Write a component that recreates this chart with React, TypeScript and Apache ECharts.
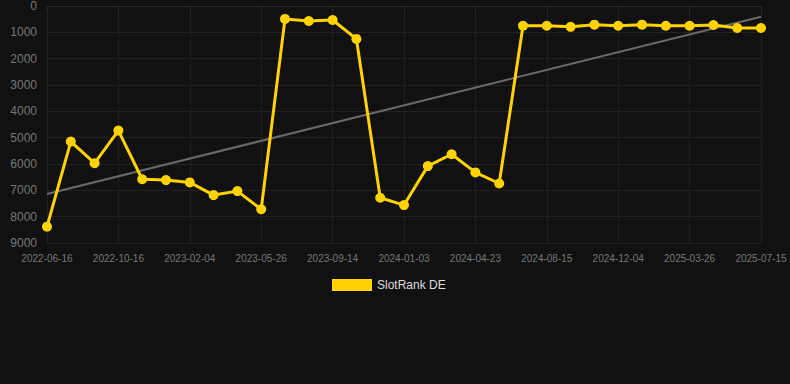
import React, { useEffect, useRef } from "react";
import * as echarts from "echarts";

const dates = [
  "2022-06-16", "2022-07-27", "2022-09-05", "2022-10-16", "2022-11-22", "2022-12-29",
  "2023-02-04", "2023-03-13", "2023-04-19", "2023-05-26", "2023-07-02", "2023-08-08",
  "2023-09-14", "2023-10-21", "2023-11-27", "2024-01-03", "2024-02-09", "2024-03-17",
  "2024-04-23", "2024-05-31", "2024-07-08", "2024-08-15", "2024-09-21", "2024-10-28",
  "2024-12-04", "2025-01-11", "2025-02-17", "2025-03-26", "2025-05-02", "2025-06-08",
  "2025-07-15",
];

const rankValues = [
  8380, 5150, 5970, 4730, 6580, 6610, 6700, 7180, 7030, 7720,
  490, 570, 530, 1250, 7280, 7560, 6080, 5630, 6320, 6740,
  750, 750, 790, 710, 750, 710, 750, 750, 720, 835, 835,
];

const trendStart = 7140;
const trendEnd = 405;

const yTicks = { min: 0, max: 9000, interval: 1000 };

export default function App() {
  const ref = useRef<HTMLDivElement>(null);
  useEffect(() => {
    document.body.style.margin = "0";
    document.body.style.background = "#111111";
    if (!ref.current) return;
    const chart = echarts.init(ref.current, null, { renderer: "svg" });
    const trend = dates.map((_, i) =>
      i === 0 ? trendStart : i === dates.length - 1 ? trendEnd : null
    );
    chart.setOption({
      animation: false,
      backgroundColor: "#111111",
      grid: { left: 47, right: 29, top: 6, bottom: 141 },
      legend: {
        top: 274,
        left: 327,
        itemWidth: 40,
        itemHeight: 12,
        itemGap: 10,
        data: [{ name: "SlotRank DE", icon: "rect" }],
        textStyle: { color: "#dddddd", fontSize: 12, fontFamily: "Arial, Liberation Sans, sans-serif" },
      },
      xAxis: {
        type: "category",
        boundaryGap: false,
        data: dates,
        axisLine: { show: true, lineStyle: { color: "#2a2a2a" } },
        axisTick: { show: true, interval: 2, lineStyle: { color: "#2a2a2a" } },
        axisLabel: {
          interval: 2,
          color: "#777777",
          fontSize: 10,
          margin: 10,
          fontFamily: "Arial, Liberation Sans, sans-serif",
        },
        splitLine: { show: true, interval: 2, lineStyle: { color: "#1f1f1f" } },
      },
      yAxis: {
        type: "value",
        inverse: true,
        min: yTicks.min,
        max: yTicks.max,
        interval: yTicks.interval,
        axisLine: { show: false },
        axisTick: { show: false },
        axisLabel: {
          color: "#777777",
          fontSize: 12,
          margin: 10,
          formatter: (v: number) => String(v),
          fontFamily: "Arial, Liberation Sans, sans-serif",
        },
        splitLine: { show: true, lineStyle: { color: "#222222" } },
      },
      series: [
        {
          name: "SlotRank DE",
          type: "line",
          data: rankValues,
          itemStyle: { color: "#FFD200" },
          lineStyle: { color: "#FFD200", width: 3 },
          symbol: "circle",
          symbolSize: 10,
          z: 3,
        },
        {
          name: "trend",
          type: "line",
          data: trend,
          connectNulls: true,
          symbol: "none",
          lineStyle: { color: "#6a6a6a", width: 2 },
          itemStyle: { color: "#6a6a6a" },
          z: 2,
        },
      ],
    });
    return () => chart.dispose();
  }, []);
  return <div ref={ref} style={{ width: 790, height: 384 }} />;
}
